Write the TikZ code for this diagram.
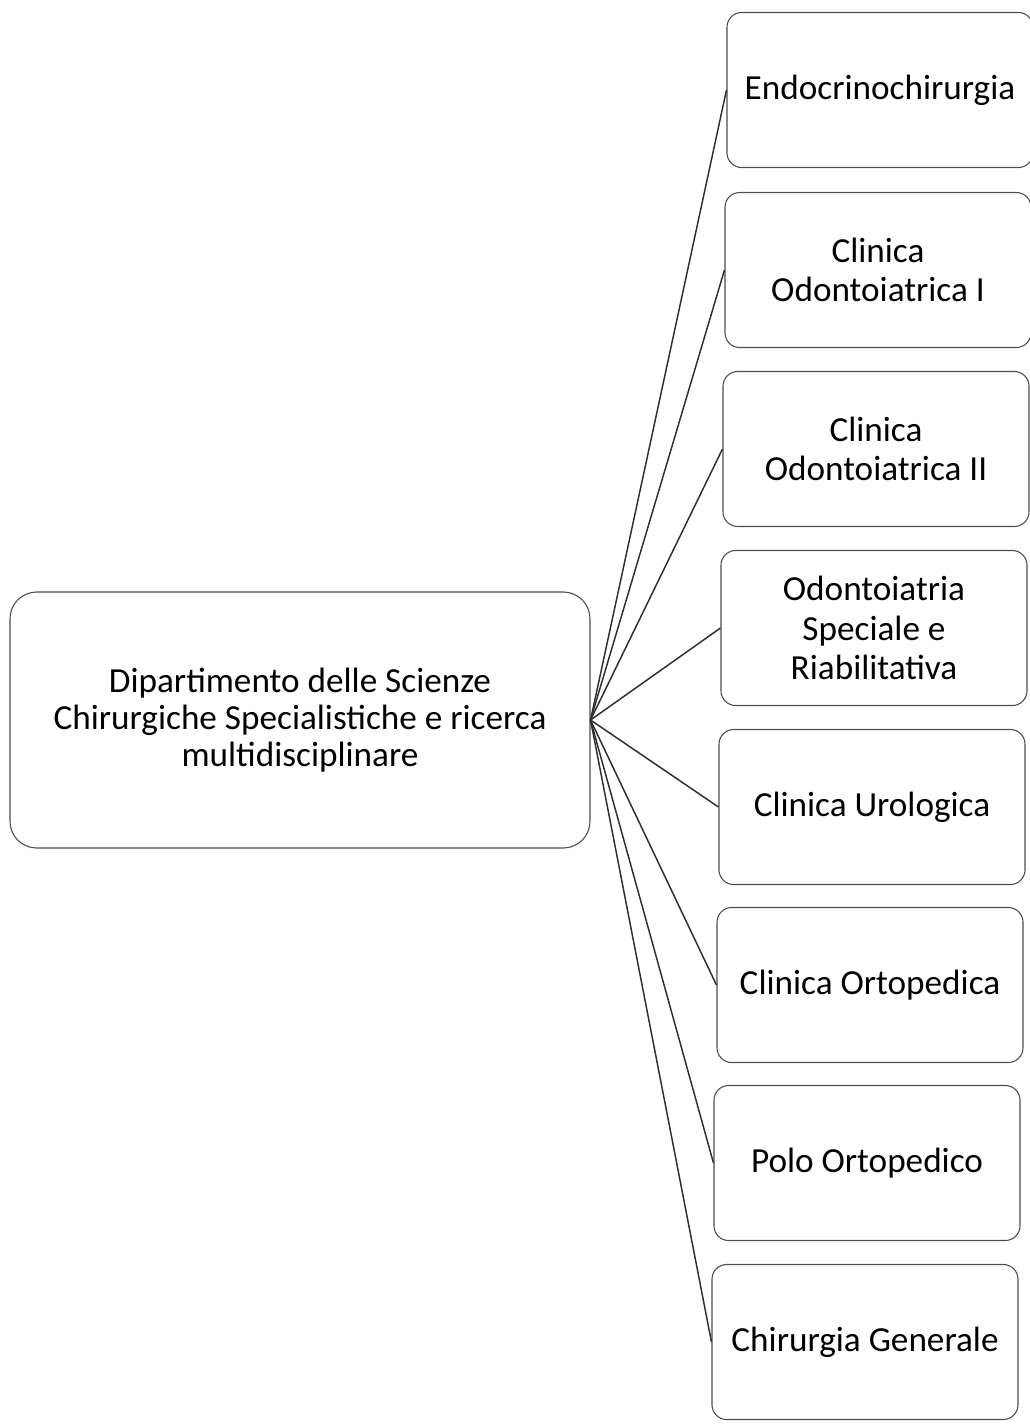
\documentclass[tikz,border=0pt]{standalone}
\usepackage{fontspec}
\setmainfont{Carlito}
\begin{document}
\begin{tikzpicture}[x=0.75pt,y=-0.75pt,
  unit/.style={draw=black!70, line width=0.8pt, rounded corners=11pt,
    minimum width=229.5pt, minimum height=116.25pt, inner sep=0pt,
    align=center, font=\fontsize{26.4}{29.5}\selectfont},
  dept/.style={draw=black!70, line width=0.8pt, rounded corners=20pt,
    minimum width=435pt, minimum height=192pt, inner sep=0pt,
    align=center, font=\fontsize{26.4}{28}\selectfont},
  link/.style={draw=black!82, line width=1.1pt}]
\useasboundingbox (0,0) rectangle (1029,1424);

% department
\node[dept] (dip) at (300,720)
  {Dipartimento delle Scienze\\Chirurgiche Specialistiche e ricerca\\multidisciplinare};

% units
\node[unit] (u1) at (880,90)   {Endocrinochirurgia};
\node[unit] (u2) at (878,270)  {Clinica\\Odontoiatrica I};
\node[unit] (u3) at (876,449)  {Clinica\\Odontoiatrica II};
\node[unit] (u4) at (874,628)  {Odontoiatria\\Speciale e\\Riabilitativa};
\node[unit] (u5) at (872,807)  {Clinica Urologica};
\node[unit] (u6) at (870,985)  {Clinica Ortopedica};
\node[unit] (u7) at (867,1163) {Polo Ortopedico};
\node[unit] (u8) at (865,1342) {Chirurgia Generale};

% connectors
\foreach \u in {u1,u2,u3,u4,u5,u6,u7,u8}
  \draw[link] (dip.east) -- (\u.west);
\end{tikzpicture}
\end{document}
